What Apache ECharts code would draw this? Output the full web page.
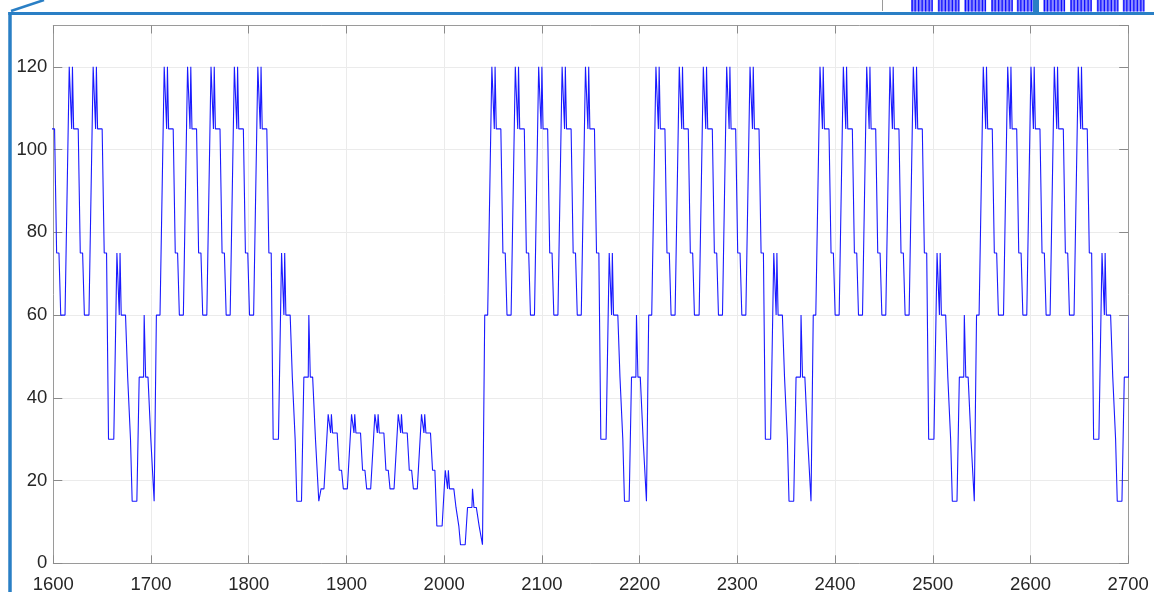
<!DOCTYPE html>
<html><head><meta charset="utf-8">
<script src="https://cdn.jsdelivr.net/npm/echarts@6/dist/echarts.min.js"></script>
<style>html,body{margin:0;padding:0;background:#fff}#c{width:1154px;height:592px}</style>
</head><body><div id="c"></div>
<script>
// ---- axis ticks ----
const xTicks = [1600,1700,1800,1900,2000,2100,2200,2300,2400,2500,2600,2700];
const yTicks = [0,20,40,60,80,100,120];
const yTop = 130;

// ---- signal ----
// rise start (x) of every pulse, grouped in the bursts seen in the plot
const groupRises = [
  [1587.8, 1612.0, 1636.5],
  [1709.2, 1733.1, 1757.1, 1781.0, 1805.0],
  [1877.0, 1900.9, 1924.8, 1948.7, 1972.5],
  [2044.5, 2068.5, 2092.4, 2116.4, 2140.3],
  [2212.4, 2236.3, 2260.9, 2284.8, 2308.7],
  [2380.3, 2404.2, 2428.1, 2451.9, 2475.8],
  [2547.4, 2572.4, 2596.2, 2620.1, 2644.6]
];
const groupKind = ['H','H','L','H','H','H','H'];
// one pulse: offset from its rise start, and levels
const pulseDx    = [0, 4.3, 6.0, 6.8, 7.6, 8.8, 13.5, 15.6, 18.0, 19.8];
const highPulseY = [60, 120, 120, 105, 120, 105, 105, 75, 75, 60];
const lowPulseY  = [18, 36, 36, 31.5, 36, 31.5, 31.5, 22.5, 22.5, 18];
// the dip after the last pulse of a burst (offset from that pulse's rise start)
const tailDx    = [20.0, 25.4, 28.6, 30.2, 31.0, 31.8, 33.0, 37.4, 39.6, 41.4, 42.5, 43.0, 44.2, 49.0, 51.4, 55.9, 56.5, 58.0, 60.4, 63.3, 64.3, 66.7];
const highTailY = [30, 30, 75, 75, 60, 75, 60, 60, 45, 45, 30, 30, 15, 15, 45, 45, 60, 45, 45, 30, 30, 15];
const lowTailY  = [9, 9, 22.5, 22.5, 18, 22.5, 18, 18, 13.5, 13.5, 9, 9, 4.5, 4.5, 13.5, 13.5, 18, 13.5, 13.5, 9, 9, 4.5];
const tailJoinDx = 69.0;

const points = [];
groupRises.forEach((rises, g) => {
  const pY = groupKind[g] === 'L' ? lowPulseY : highPulseY;
  const tY = groupKind[g] === 'L' ? lowTailY : highTailY;
  rises.forEach((r, k) => {
    const last = k === rises.length - 1;
    const n = last ? pulseDx.length - 1 : pulseDx.length;
    for (let j = 0; j < n; j++) points.push([+(r + pulseDx[j]).toFixed(2), pY[j]]);
    if (last) {
      tailDx.forEach((d, j) => points.push([+(r + d).toFixed(2), tY[j]]));
      if (g + 1 < groupRises.length) {
        const nY = groupKind[g + 1] === 'L' ? lowPulseY : highPulseY;
        points.push([+(r + tailJoinDx).toFixed(2), nY[0]]);
      }
    }
  });
});

// ---- screenshot decorations (frame of the callout, strip of neighbouring plot) ----
const frameColor = '#2a7fc5';
const stripGroupX = [911, 937.7, 964.3, 991, 1016.7, 1043.3, 1070, 1096.7, 1122.7];
const graphics = [
  {type:'line', shape:{x1:10, y1:12, x2:10, y2:592}, style:{stroke:frameColor, lineWidth:3.5}},
  {type:'line', shape:{x1:8.3, y1:13.5, x2:1154, y2:13.5}, style:{stroke:frameColor, lineWidth:3}},
  {type:'line', shape:{x1:11, y1:11, x2:44, y2:0}, style:{stroke:frameColor, lineWidth:2.5}},
  {type:'line', shape:{x1:882.5, y1:0, x2:882.5, y2:11}, style:{stroke:'#9a9a9a', lineWidth:1}}
];
stripGroupX.forEach(x0 => {
  graphics.push({type:'rect', shape:{x:x0, y:0, width:21.5, height:11.5}, style:{fill:'#8c8cff'}});
  [0.5, 3.5, 7, 10.5, 14, 17.5, 20.5].forEach(d => {
    graphics.push({type:'rect', shape:{x:x0 + d, y:0, width:1.3, height:11.5}, style:{fill:'#1010ff'}});
  });
});
graphics.push({type:'rect', shape:{x:1033, y:0, width:6, height:13}, style:{fill:frameColor}});

const axisLineStyle = {color:'#9a9a9a', width:1};
const tickStyle = {color:'#8a8a8a', width:1};
const labelFont = {color:'#262626', fontSize:18.5, fontFamily:'Liberation Sans, Arial, sans-serif'};

const chart = echarts.init(document.getElementById('c'), null, {renderer:'canvas'});
chart.setOption({
  animation:false,
  backgroundColor:'#ffffff',
  grid:{left:53.3, right:25.8, top:25.5, bottom:28.7, containLabel:false, outerBoundsMode:'none'},
  xAxis:[{
    type:'value', min:xTicks[0], max:xTicks[xTicks.length-1], interval:xTicks[1]-xTicks[0], position:'bottom',
    axisLine:{show:true, onZero:false, lineStyle:axisLineStyle},
    axisTick:{show:true, inside:true, length:8, lineStyle:tickStyle},
    axisLabel:Object.assign({margin:12, formatter:v => String(v)}, labelFont),
    splitLine:{show:true, lineStyle:{color:'#ebebeb', width:1}}
  },{
    type:'value', min:xTicks[0], max:xTicks[xTicks.length-1], interval:xTicks[1]-xTicks[0], position:'top',
    axisLine:{show:true, onZero:false, lineStyle:axisLineStyle},
    axisTick:{show:true, inside:true, length:8, lineStyle:tickStyle},
    axisLabel:{show:false}, splitLine:{show:false}
  }],
  yAxis:[{
    type:'value', min:yTicks[0], max:yTop, interval:yTicks[1]-yTicks[0], position:'left',
    axisLine:{show:true, onZero:false, lineStyle:axisLineStyle},
    axisTick:{show:true, inside:true, length:9, lineStyle:tickStyle},
    axisLabel:Object.assign({margin:6, showMaxLabel:false, formatter:v => yTicks.indexOf(v) >= 0 ? String(v) : ''}, labelFont),
    splitLine:{show:true, lineStyle:{color:'#ebebeb', width:1}}
  },{
    type:'value', min:yTicks[0], max:yTop, interval:yTicks[1]-yTicks[0], position:'right',
    axisLine:{show:true, onZero:false, lineStyle:axisLineStyle},
    axisTick:{show:true, inside:true, length:9, lineStyle:tickStyle},
    axisLabel:{show:false}, splitLine:{show:false}
  }],
  series:[{
    type:'line', xAxisIndex:0, yAxisIndex:0, data:points,
    showSymbol:false, symbol:'none', clip:true, silent:true, sampling:null,
    lineStyle:{color:'#1a1aff', width:1.1}
  }],
  graphic:graphics
});
</script>
</body></html>
